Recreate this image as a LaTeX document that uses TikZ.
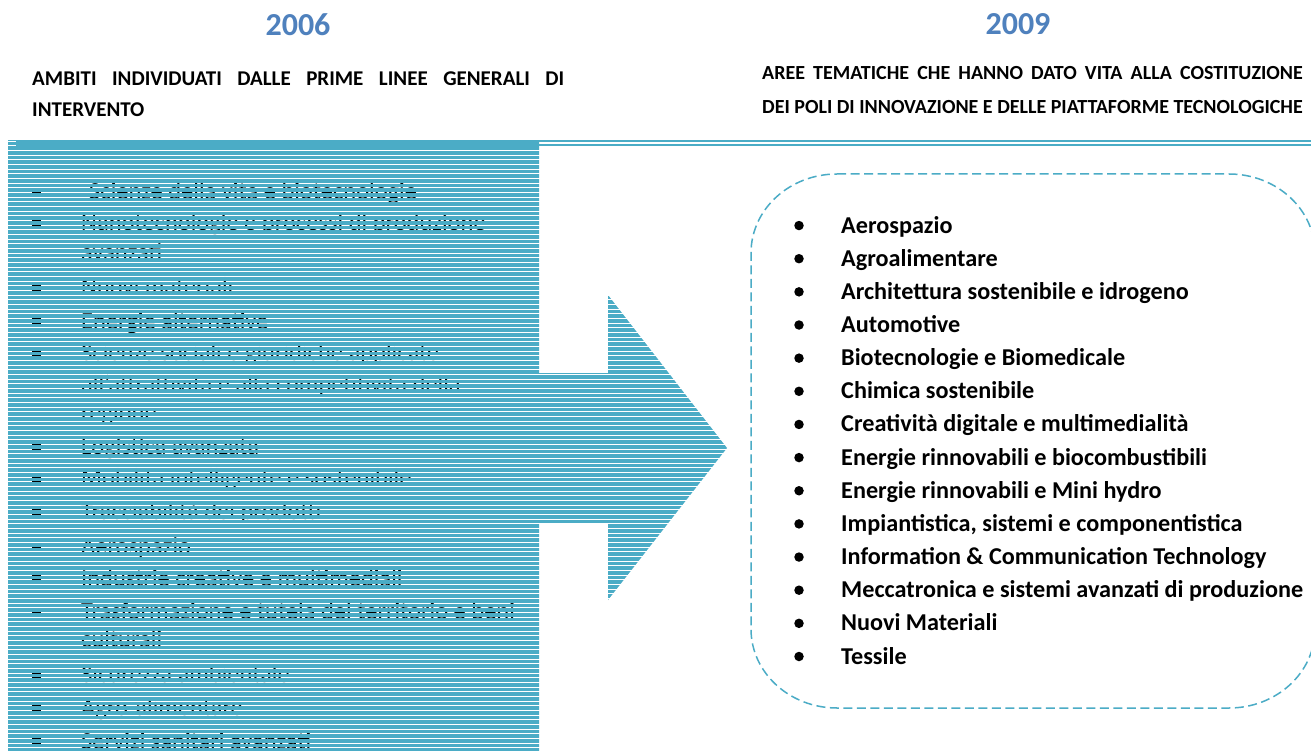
\documentclass[tikz,border=0pt]{standalone}
\usepackage{fontspec}
\setmainfont{Carlito}
\definecolor{aqua}{HTML}{4BACC6}
\definecolor{yearblue}{HTML}{4F81BD}
\newsavebox\rtwobox
\newlength\rtwowd
\begin{document}
\sbox\rtwobox{\fontsize{20}{24}\selectfont\bfseries DEI POLI DI INNOVAZIONE E DELLE PIATTAFORME TECNOLOGICHE}%
\setlength\rtwowd{\wd\rtwobox}%
\begin{tikzpicture}[x=1pt,y=-1pt,
  year/.style={font=\fontsize{32}{36}\selectfont\bfseries, text=yearblue, anchor=base, inner sep=0},
  headtxt/.style={font=\fontsize{21}{25}\selectfont\bfseries, anchor=base west, inner sep=0},
  rheadtxt/.style={font=\fontsize{20}{24}\selectfont\bfseries, anchor=base east, inner sep=0},
  litem/.style={font=\fontsize{24.5}{28}\selectfont, anchor=base west, inner sep=0},
  ritem/.style={font=\fontsize{24.2}{28}\selectfont\bfseries, anchor=base west, inner sep=0},
  rdot/.style={circle, fill=black, inner sep=0, minimum size=9.5pt},
  lsq/.style={rectangle, fill=black, inner sep=0, minimum width=9pt, minimum height=8pt},
  band/.style={fill=aqua},
  boxline/.style={draw=aqua, line width=1.5pt, dash pattern=on 9pt off 4.5pt}]
\useasboundingbox (0,0) rectangle (1311,751);
\fill[white] (0,0) rectangle (1311,751);

% years
\node[year] (y06) at (298,36) {2006};
\node[year] (y09) at (1018,35) {2009};

% left heading
\node[headtxt] (lh1) at (32,86) {\makebox[532pt]{AMBITI\hfill INDIVIDUATI\hfill DALLE\hfill PRIME\hfill LINEE\hfill GENERALI\hfill DI}};
\node[headtxt] (lh2) at (32,117) {INTERVENTO};

% right heading
\node[rheadtxt] (rh2) at (1303,114) {\usebox\rtwobox};
\node[rheadtxt] (rh1) at (1303,80) {\makebox[\rtwowd]{AREE\hfill TEMATICHE\hfill CHE\hfill HANNO\hfill DATO\hfill VITA\hfill ALLA\hfill COSTITUZIONE}};

% left list text (under the striped arrow)
\foreach \y/\b/\dx/\t [count=\n] in {
  192/1/8/Scienze della vita e biotecnologie,
  223/1/0/Nanotecnologie e processi di produzione,
  253/0/0/avanzati,
  287/1/0/Nuovi materiali,
  322/1/0/Energie alternative,
  353/1/0/Scienze sociali e giuridiche applicate,
  385/0/0/all'attrattività e alla competitività della,
  413/0/0/regione,
  447/1/0/Logistica avanzata,
  478/1/0/Mobilità intelligente e sostenibile,
  512/1/0/Tracciabilità dei prodotti,
  547/1/0/Aerospazio,
  579/1/0/Industrie creative e multimediali,
  612/1/0/Trasformazione e tutela del territorio e beni,
  640/0/0/culturali,
  675/1/0/Sicurezza ambientale,
  708/1/0/Agro-alimentare,
  742/1/0/Servizi sanitari avanzati} {
  \node[litem] (l\n) at ({81+\dx},{\y+7.5}) {\t};
  \ifnum\b=1 \node[lsq] (lb\n) at (36,\y) {}; \fi
}

% striped arrow
\begin{scope}
  \clip (8,140) -- (539,140) -- (539,373) -- (608,373) -- (608,295) -- (727,448)
        -- (608,600) -- (608,523) -- (539,523) -- (539,751) -- (8,751) -- cycle;
  \fill[band] (0,140) rectangle (730,150);
  \foreach \k in {0,...,129} {
    \fill[band] (0,{150+4.667*\k+1}) rectangle (730,{150+4.667*(\k+1)});
  }
\end{scope}
\draw[white, line width=0.8pt] (8,141.7) -- (16,141.7) (8,145.3) -- (16,145.3);

% double rule at top right
\draw[aqua, line width=1.6pt] (539,141) -- (1311,141) (539,145) -- (1311,145);

% dashed rounded box
\draw[boxline] (837,174) -- (1229,174)
  arc[start angle=-90, end angle=0, x radius=86, y radius=79] -- (1315,629)
  arc[start angle=0, end angle=90, x radius=86, y radius=79] -- (837,708)
  arc[start angle=90, end angle=180, x radius=86, y radius=79] -- (751,253)
  arc[start angle=180, end angle=270, x radius=86, y radius=79] -- cycle;

% right list
\foreach \t [count=\n from 0] in {
  Aerospazio,
  Agroalimentare,
  Architettura sostenibile e idrogeno,
  Automotive,
  Biotecnologie e Biomedicale,
  Chimica sostenibile,
  Creatività digitale e multimedialità,
  Energie rinnovabili e biocombustibili,
  Energie rinnovabili e Mini hydro,
  {Impiantistica, sistemi e componentistica},
  Information \& Communication Technology,
  Meccatronica e sistemi avanzati di produzione,
  Nuovi Materiali,
  Tessile} {
  \node[ritem] (r\n) at (841,{664-(13-\n)*33.15}) {\t};
  \node[rdot] (rb\n) at (799,{664-(13-\n)*33.15-7.5}) {};
}
\end{tikzpicture}
\end{document}
